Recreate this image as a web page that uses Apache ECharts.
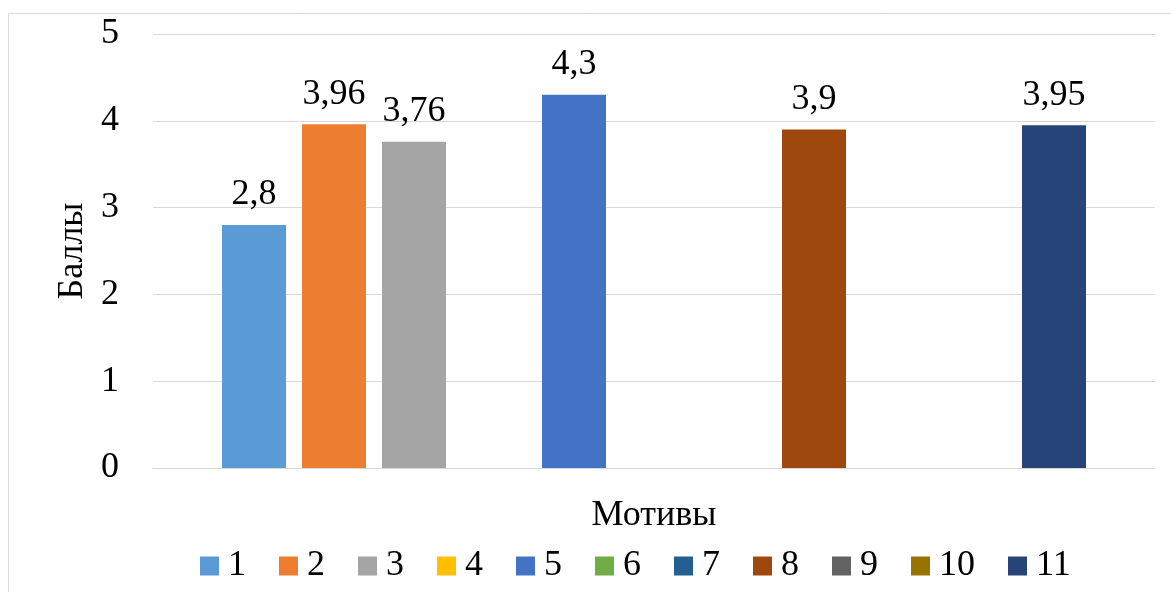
<!DOCTYPE html>
<html>
<head>
<meta charset="utf-8">
<script src="https://cdn.jsdelivr.net/npm/echarts@6/dist/echarts.min.js"></script>
<style>
  html, body { margin: 0; padding: 0; background: #fff; }
  #chart { width: 1171px; height: 592px; }
</style>
</head>
<body>
<div id="chart"></div>
<script>
// Motive ids (legend entries) and their scores; empty motives have no bar
const motives = ['1', '2', '3', '4', '5', '6', '7', '8', '9', '10', '11'];
const scores = [2.8, 3.96, 3.76, null, 4.3, null, null, 3.9, null, null, 3.95];
const colors = ['#5B9BD5', '#ED7D31', '#A5A5A5', '#FFC000', '#4472C4', '#70AD47',
                '#255E91', '#9E480E', '#636363', '#997300', '#264478'];
const yTicks = [0, 1, 2, 3, 4, 5];
const xTitle = 'Мотивы';
const yTitle = 'Баллы';

const FONT = '"Liberation Serif", "Times New Roman", serif';

const chart = echarts.init(document.getElementById('chart'), null, { renderer: 'canvas' });

const series = motives.map((name, i) => ({
  name: name,
  type: 'bar',
  data: [scores[i]],
  barWidth: 64,
  barGap: '25%',
  itemStyle: { color: colors[i] },
  label: {
    show: scores[i] !== null,
    position: 'top',
    distance: 12,
    fontFamily: FONT,
    fontSize: 36,
    color: '#000',
    formatter: p => String(p.value).replace('.', ',')
  }
}));

chart.setOption({
  animation: false,
  color: colors,
  textStyle: { fontFamily: FONT },
  graphic: [{
    type: 'rect',
    shape: { x: 8.5, y: 13.5, width: 1175, height: 600 },
    style: { fill: 'none', stroke: '#d9d9d9', lineWidth: 1 },
    silent: true
  }],
  grid: { left: 153, right: 16, top: 34, bottom: 124 },
  legend: {
    data: motives,
    bottom: 3,
    left: 195,
    icon: 'rect',
    itemWidth: 19,
    itemHeight: 19,
    itemGap: 33,
    textStyle: { fontFamily: FONT, fontSize: 36, color: '#000', padding: [0, 0, 0, 4] }
  },
  xAxis: {
    type: 'category',
    data: [''],
    name: xTitle,
    nameLocation: 'middle',
    nameGap: 30,
    nameTextStyle: { fontFamily: FONT, fontSize: 36, color: '#000' },
    axisLine: { lineStyle: { color: '#d9d9d9', width: 1 } },
    axisTick: { show: false },
    axisLabel: { show: false }
  },
  yAxis: {
    type: 'value',
    min: yTicks[0],
    max: yTicks[yTicks.length - 1],
    interval: 1,
    name: yTitle,
    nameLocation: 'middle',
    nameRotate: 90,
    nameGap: 62,
    nameTextStyle: { fontFamily: FONT, fontSize: 36, color: '#000' },
    axisLine: { show: false },
    axisTick: { show: false },
    axisLabel: { fontFamily: FONT, fontSize: 36, color: '#000', margin: 34 },
    splitLine: { lineStyle: { color: '#d9d9d9', width: 1 } }
  },
  series: series
});
</script>
</body>
</html>
